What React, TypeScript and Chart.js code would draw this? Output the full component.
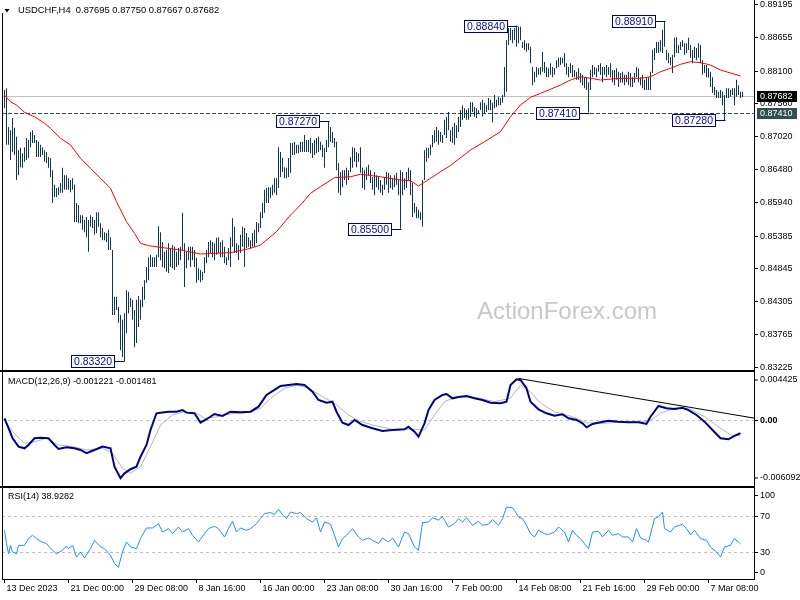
import React, { useEffect, useRef } from 'react';
import { Chart, registerables } from 'chart.js';

Chart.register(...registerables);

const FONT = '"Liberation Sans", Arial, sans-serif';

// ---------------- data ----------------
const symbolTitle = 'USDCHF,H4';
const lastOHLC = [0.87695, 0.8775, 0.87667, 0.87682];
const lastClose = 0.87682;
const supportLevel = 0.8741;

const priceTicks = [0.89195, 0.88655, 0.881, 0.8756, 0.8702, 0.8648, 0.8594, 0.85385, 0.84845, 0.84305, 0.83765, 0.83225];

const dateLabels = ['13 Dec 2023', '21 Dec 00:00', '29 Dec 08:00', '8 Jan 16:00', '16 Jan 00:00', '23 Jan 08:00', '30 Jan 16:00', '7 Feb 00:00', '14 Feb 08:00', '21 Feb 16:00', '29 Feb 00:00', '7 Mar 08:00'];
const dateLabelBars = [0, 32, 64, 96, 128, 160, 192, 224, 256, 288, 320, 352];

const highs = [
  0.8778, 0.8781, 0.8717, 0.8712, 0.8732, 0.8716, 0.8701, 0.8679, 0.8683, 0.8674,
  0.8684, 0.8699, 0.8696, 0.8709, 0.8712, 0.8704, 0.8696, 0.8693, 0.8688, 0.8684,
  0.8679, 0.8676, 0.8668, 0.8666, 0.8646, 0.8622, 0.8617, 0.8618, 0.8625, 0.865,
  0.8638, 0.8638, 0.8633, 0.863, 0.8633, 0.8622, 0.8592, 0.8589, 0.8572, 0.8572,
  0.8564, 0.8569, 0.8564, 0.8572, 0.8569, 0.8564, 0.8577, 0.8577, 0.8559, 0.8551,
  0.8544, 0.8543, 0.8548, 0.8536, 0.8515, 0.8438, 0.8438, 0.8421, 0.8408, 0.84,
  0.8411, 0.8449, 0.8446, 0.8436, 0.8433, 0.8416, 0.8433, 0.8439, 0.8433, 0.8454,
  0.8465, 0.8487, 0.8503, 0.8507,
  0.8503, 0.8503, 0.8507, 0.8554, 0.8544, 0.8528, 0.8512, 0.8515, 0.8526, 0.8518,
  0.8523, 0.852, 0.8512, 0.8518, 0.852, 0.8576, 0.8526, 0.8512, 0.852, 0.852,
  0.852, 0.8515, 0.8502, 0.8485, 0.8482, 0.8479, 0.8503, 0.8515, 0.8528, 0.8531,
  0.8528, 0.8526, 0.8535, 0.8536, 0.8528, 0.8531, 0.852, 0.8503, 0.8518, 0.8536,
  0.8567, 0.8553, 0.8526, 0.8523, 0.854, 0.8553, 0.8551, 0.8543, 0.8536, 0.8531,
  0.8543, 0.8548, 0.8561, 0.8559, 0.8577, 0.8592, 0.8614, 0.8617, 0.8618, 0.8618,
  0.8622, 0.8633, 0.8633, 0.8684, 0.8676, 0.8666, 0.8651, 0.865, 0.8666, 0.8691,
  0.8691, 0.8693, 0.8688, 0.8688, 0.8693,
  0.8693, 0.8704, 0.8696, 0.8696, 0.8699, 0.8691, 0.8696, 0.8699, 0.8701, 0.8693,
  0.8688, 0.8683, 0.8696, 0.8727, 0.8717, 0.8709, 0.8699, 0.8693, 0.8658, 0.8643,
  0.8646, 0.8646, 0.865, 0.8646, 0.8668, 0.8684, 0.8683, 0.8676, 0.8674, 0.8684,
  0.865, 0.8646, 0.8651, 0.8655, 0.8646, 0.8635, 0.8643, 0.8638, 0.8635, 0.863,
  0.8622, 0.8635, 0.8643, 0.8642, 0.8638, 0.8633, 0.8638, 0.8642, 0.863, 0.8646,
  0.8643, 0.8633, 0.8643, 0.865, 0.8646, 0.8625, 0.8592, 0.8586, 0.8581, 0.8577,
  0.863, 0.8679, 0.8683, 0.8683, 0.8688, 0.8704, 0.8712, 0.8717, 0.8712, 0.8709,
  0.8704, 0.8729, 0.8734, 0.8742, 0.8712,
  0.8717, 0.8724, 0.872, 0.8734, 0.8745, 0.8753, 0.8748, 0.8745, 0.8748, 0.8758,
  0.8758, 0.875, 0.8748, 0.8745, 0.8758, 0.8762, 0.8757, 0.8753, 0.8765, 0.8762,
  0.8757, 0.877, 0.8762, 0.8767, 0.8765, 0.877, 0.8816, 0.886, 0.888, 0.888,
  0.8877, 0.888, 0.8884, 0.8882, 0.8882, 0.8857, 0.886, 0.8855, 0.8855, 0.8849,
  0.8816, 0.8808, 0.8816, 0.8814, 0.8816, 0.8841, 0.8824, 0.8816, 0.8814, 0.8822,
  0.8816, 0.8814, 0.8827, 0.8831, 0.8832, 0.8831, 0.8839, 0.8822, 0.8816, 0.8822,
  0.8819, 0.8811, 0.8808, 0.8814, 0.8806, 0.8803, 0.8799, 0.8798, 0.8791, 0.8811,
  0.8819, 0.8816, 0.8814, 0.8819, 0.8822,
  0.8816, 0.8816, 0.8819, 0.8816, 0.8822, 0.8811, 0.8811, 0.8814, 0.8808, 0.8806,
  0.8808, 0.8803, 0.8803, 0.8808, 0.8806, 0.8799, 0.8806, 0.8816, 0.8814, 0.8799,
  0.8803, 0.8795, 0.8798, 0.8799, 0.8808, 0.8844, 0.8847, 0.8857, 0.8857, 0.886,
  0.8877, 0.8891, 0.8844, 0.8839, 0.8832, 0.8836, 0.8864, 0.8865, 0.8852, 0.8857,
  0.886, 0.8855, 0.8855, 0.8864, 0.8852, 0.8844, 0.8849, 0.8847, 0.8855, 0.8852,
  0.8827, 0.8819, 0.8819, 0.8814, 0.8808, 0.8799, 0.8783, 0.8778, 0.8775, 0.8778,
  0.8775, 0.877, 0.8781, 0.8781, 0.8778, 0.8781, 0.8781, 0.8795, 0.8786, 0.8775,
  0.8775,
];

const lows = [
  0.8748, 0.8688, 0.8688, 0.8663, 0.8676, 0.8671, 0.863, 0.8638, 0.8651, 0.865,
  0.866, 0.8663, 0.8666, 0.8684, 0.8691, 0.8691, 0.8668, 0.8668, 0.8668, 0.8671,
  0.866, 0.8658, 0.865, 0.8635, 0.8592, 0.8602, 0.8602, 0.8605, 0.8609, 0.8609,
  0.8614, 0.8614, 0.8614, 0.861, 0.8614, 0.8561, 0.8561, 0.8559, 0.8559, 0.8548,
  0.8544, 0.8536, 0.8512, 0.8553, 0.8551, 0.854, 0.8543, 0.8553, 0.8536, 0.8531,
  0.8531, 0.8528, 0.8515, 0.8515, 0.8408, 0.8408, 0.8416, 0.8395, 0.835, 0.8339,
  0.8332, 0.8378, 0.8411, 0.8421, 0.84, 0.8355, 0.8362, 0.8388, 0.84, 0.8421,
  0.8433, 0.8461, 0.8465, 0.8487,
  0.8487, 0.8487, 0.8487, 0.8503, 0.8498, 0.8487, 0.8485, 0.8479, 0.8477, 0.8487,
  0.8485, 0.8482, 0.8487, 0.849, 0.8498, 0.8515, 0.8454, 0.8485, 0.8498, 0.8487,
  0.8498, 0.8487, 0.8461, 0.8465, 0.8462, 0.8465, 0.8477, 0.8493, 0.8503, 0.851,
  0.8503, 0.8498, 0.8507, 0.851, 0.8503, 0.8503, 0.8493, 0.849, 0.8498, 0.8487,
  0.852, 0.851, 0.851, 0.8498, 0.851, 0.852, 0.8487, 0.8518, 0.852, 0.8518,
  0.852, 0.852, 0.8526, 0.8544, 0.8551, 0.8567, 0.8576, 0.8592, 0.8592, 0.86,
  0.8605, 0.8609, 0.8605, 0.8617, 0.8635, 0.8643, 0.8633, 0.8633, 0.8635, 0.8642,
  0.8671, 0.8671, 0.8674, 0.8674, 0.8676,
  0.8676, 0.8676, 0.8676, 0.8676, 0.8674, 0.8666, 0.8671, 0.8674, 0.8676, 0.8679,
  0.8668, 0.865, 0.8676, 0.8684, 0.8693, 0.8691, 0.8684, 0.8646, 0.8609, 0.8605,
  0.8618, 0.863, 0.8622, 0.863, 0.8643, 0.865, 0.866, 0.8651, 0.866, 0.8642,
  0.8617, 0.8614, 0.863, 0.8638, 0.8625, 0.8614, 0.8605, 0.8618, 0.8614, 0.8609,
  0.8605, 0.8614, 0.8622, 0.8609, 0.8617, 0.8614, 0.8618, 0.8622, 0.8605, 0.855,
  0.8605, 0.8614, 0.8617, 0.863, 0.8605, 0.8569, 0.8576, 0.8567, 0.8567, 0.8564,
  0.8553, 0.863, 0.866, 0.8666, 0.8671, 0.8684, 0.8691, 0.8693, 0.8688, 0.8693,
  0.8691, 0.8704, 0.8699, 0.8712, 0.8693,
  0.8691, 0.8688, 0.8699, 0.8709, 0.8717, 0.8729, 0.8732, 0.8729, 0.8729, 0.8734,
  0.8742, 0.8734, 0.8732, 0.874, 0.8745, 0.8734, 0.874, 0.8742, 0.8745, 0.8745,
  0.8725, 0.8748, 0.875, 0.8753, 0.8753, 0.8757, 0.8767, 0.8775, 0.8852, 0.886,
  0.8855, 0.886, 0.8849, 0.8855, 0.886, 0.8847, 0.8844, 0.8841, 0.8844, 0.8822,
  0.8786, 0.8791, 0.8799, 0.8803, 0.8803, 0.8808, 0.8806, 0.8799, 0.8799, 0.8803,
  0.8799, 0.8803, 0.8814, 0.8816, 0.8819, 0.8822, 0.8816, 0.8803, 0.8799, 0.8806,
  0.8799, 0.8799, 0.8795, 0.8795, 0.879, 0.8786, 0.8781, 0.8778, 0.8741, 0.8778,
  0.8799, 0.8803, 0.8799, 0.8808, 0.8803,
  0.8791, 0.8803, 0.8799, 0.8803, 0.8799, 0.8791, 0.8786, 0.8795, 0.8783, 0.879,
  0.879, 0.8786, 0.8791, 0.8786, 0.8783, 0.8783, 0.879, 0.8799, 0.8791, 0.8786,
  0.8781, 0.8778, 0.8778, 0.8778, 0.8778, 0.8806, 0.8827, 0.8839, 0.8839, 0.8841,
  0.8839, 0.8849, 0.8827, 0.8822, 0.8819, 0.8806, 0.8832, 0.8839, 0.8839, 0.8844,
  0.8849, 0.8836, 0.8839, 0.8844, 0.8831, 0.8822, 0.8831, 0.8827, 0.8831, 0.8822,
  0.8803, 0.8806, 0.8799, 0.8798, 0.8783, 0.8773, 0.877, 0.8765, 0.8765, 0.8765,
  0.8753, 0.8728, 0.8765, 0.8765, 0.8767, 0.877, 0.8753, 0.8767, 0.877, 0.8765,
  0.87667,
];

const maBars = [0, 3, 6, 10, 15, 20, 23, 28, 33, 38, 43, 48, 53, 56, 61, 65, 68, 72, 88, 98, 113, 123, 128, 136, 143, 148, 153, 158, 165, 173, 178, 188, 198, 203, 207, 213, 218, 223, 233, 240, 248, 253, 258, 263, 268, 273, 278, 283, 288, 293, 298, 308, 318, 323, 328, 333, 338, 343, 348, 353, 358, 363, 368];
const maValues = [0.87698, 0.87588, 0.87534, 0.87414, 0.87341, 0.87233, 0.8715, 0.86986, 0.86876, 0.86657, 0.86492, 0.86328, 0.86163, 0.85943, 0.85614, 0.85423, 0.85259, 0.85219, 0.85148, 0.85083, 0.85104, 0.85176, 0.85231, 0.8545, 0.85724, 0.85889, 0.86081, 0.8619, 0.86338, 0.86354, 0.86394, 0.86354, 0.863, 0.86288, 0.86201, 0.86328, 0.86437, 0.86539, 0.86793, 0.8693, 0.87095, 0.87341, 0.87534, 0.8766, 0.87726, 0.87792, 0.87863, 0.87945, 0.87999, 0.87973, 0.87945, 0.87973, 0.87973, 0.87999, 0.88081, 0.88137, 0.88203, 0.88246, 0.8823, 0.88192, 0.88109, 0.88061, 0.88011];

const annBars = [60, 162, 198, 256, 292, 330, 360];
const annPrices = [0.8332, 0.8727, 0.855, 0.8884, 0.8741, 0.8891, 0.8728];

const macdBars = [0, 2, 4, 7, 10, 12, 15, 18, 22, 25, 27, 31, 35, 38, 41, 45, 49, 53, 55, 58, 60, 63, 66, 68, 71, 73, 76, 78, 82, 86, 89, 91, 95, 98, 101, 105, 109, 113, 118, 123, 127, 131, 135, 138, 142, 146, 150, 154, 157, 161, 164, 166, 169, 172, 175, 179, 184, 189, 194, 200, 202, 205, 207, 210, 212, 215, 219, 221, 224, 228, 231, 235, 239, 243, 248, 251, 253, 256, 258, 261, 263, 267, 271, 275, 279, 282, 286, 289, 291, 294, 298, 302, 307, 312, 317, 321, 323, 327, 331, 335, 339, 342, 346, 350, 354, 358, 362, 365, 368];
const macdValues = [0.00019, -0.00076, -0.00169, -0.00252, -0.00268, -0.00236, -0.00172, -0.00166, -0.00172, -0.00236, -0.00274, -0.00258, -0.00268, -0.00284, -0.00315, -0.00284, -0.00252, -0.00268, -0.00444, -0.00554, -0.00507, -0.00468, -0.00444, -0.00348, -0.00236, -0.00093, 0.00067, 0.00073, 0.00082, 0.00082, 0.00098, 0.00073, 0.00067, -0.00023, 0.0001, 0.0006, 0.00041, 0.00082, 0.00076, 0.00082, 0.0013, 0.00242, 0.0029, 0.00328, 0.00337, 0.00347, 0.00337, 0.00273, 0.00194, 0.00168, 0.00178, 0.00082, -0.00023, -0.00045, 0.00003, -0.00045, -0.00076, -0.00102, -0.00093, -0.00086, -0.00061, -0.00109, -0.00157, -0.00029, 0.00098, 0.00194, 0.00242, 0.00251, 0.0021, 0.00226, 0.00232, 0.0021, 0.00194, 0.00168, 0.00163, 0.00178, 0.00337, 0.00392, 0.00385, 0.00306, 0.00178, 0.00105, 0.00067, 0.00044, 0.00057, 0.00019, 0.00003, -0.00029, -0.00067, -0.00035, -0.00019, -0.00004, -0.00013, -0.00019, -0.00019, -0.00035, 0.00034, 0.00137, 0.00115, 0.00108, 0.0012, 0.00098, 0.00051, -0.00013, -0.00093, -0.00172, -0.00182, -0.0015, -0.001221];

const signalBars = [0, 4, 10, 15, 21, 27, 34, 41, 49, 54, 59, 63, 68, 73, 78, 84, 90, 96, 100, 105, 113, 123, 128, 133, 140, 146, 152, 159, 165, 172, 177, 184, 194, 205, 210, 215, 220, 226, 235, 245, 253, 258, 263, 268, 275, 284, 291, 299, 312, 322, 328, 335, 342, 350, 358, 363, 368];
const signalValues = [0.00003, -0.00109, -0.0022, -0.00205, -0.00172, -0.00236, -0.00252, -0.00284, -0.00268, -0.00315, -0.00459, -0.00507, -0.00444, -0.00252, -0.00045, 0.00051, 0.00082, 0.00067, 0.00019, 0.00029, 0.0006, 0.00076, 0.00115, 0.0021, 0.00306, 0.00337, 0.00306, 0.00226, 0.00163, 0.00051, -0.00004, -0.00045, -0.00086, -0.00086, -0.00093, 0.00051, 0.00178, 0.00226, 0.0022, 0.00178, 0.0021, 0.00337, 0.00273, 0.00163, 0.00082, 0.00034, -0.00023, -0.00029, -0.00013, -0.00013, 0.00067, 0.00115, 0.00115, 0.00034, -0.00076, -0.0014, -0.001481];

const macdTrendBars = [257, 376];
const macdTrendValues = [0.004, 0.00017];
const macdScaleMax = 0.004425;
const macdScaleMin = -0.006092;

const rsiBars = [0, 1, 2, 3, 4, 6, 7, 10, 12, 14, 16, 18, 21, 24, 26, 29, 31, 32, 34, 36, 38, 40, 43, 45, 48, 50, 53, 55, 57, 59, 61, 63, 66, 68, 71, 74, 77, 79, 82, 84, 87, 89, 92, 94, 97, 100, 102, 105, 107, 110, 112, 114, 116, 118, 121, 123, 126, 128, 130, 133, 135, 137, 140, 141, 143, 146, 148, 151, 154, 156, 158, 160, 163, 165, 167, 169, 171, 174, 177, 179, 182, 184, 187, 189, 192, 194, 197, 200, 202, 205, 207, 209, 212, 214, 217, 219, 222, 225, 227, 229, 231, 234, 237, 239, 242, 244, 247, 249, 251, 254, 255, 257, 259, 261, 263, 265, 267, 270, 272, 275, 277, 280, 282, 284, 286, 288, 290, 292, 294, 297, 299, 302, 304, 307, 309, 312, 314, 316, 318, 321, 322, 325, 327, 329, 330, 333, 335, 339, 341, 343, 345, 348, 351, 353, 356, 358, 360, 363, 365, 367, 368];
const rsiValues = [54.1, 39.3, 28.2, 37.4, 30, 28, 37.4, 37.4, 44.9, 48.6, 44.9, 41.9, 39.3, 31.9, 28, 31.9, 36.7, 33.8, 37.4, 24.4, 30, 23.3, 33.8, 43, 35.6, 33.8, 26.3, 17.1, 13.3, 30, 41.1, 35.6, 33.8, 44.9, 56.7, 56.7, 61.5, 52.2, 56, 50.4, 57.8, 52.2, 56, 48.6, 41.1, 50.4, 56, 58.6, 56, 46.7, 56, 64.1, 52.2, 56.7, 54.1, 56, 61.5, 67.1, 72.7, 73.8, 71.6, 77.4, 68.9, 67.1, 74.4, 72.7, 73.8, 67.1, 63.3, 68.1, 52.2, 63.3, 60.8, 48.6, 35.6, 44.9, 48.6, 56, 46.7, 43, 45.6, 43, 39.3, 45.6, 41.1, 45.6, 35.6, 52.2, 50.4, 35.6, 31.9, 62.6, 63.3, 68.1, 65.5, 69.3, 57.8, 61.5, 67.1, 63.3, 68.1, 59.7, 64.1, 59.7, 60.8, 66, 59.7, 67.1, 80, 79, 76.3, 68.9, 67.1, 59.7, 50.4, 46.7, 54.1, 50.4, 49.4, 52.2, 57.8, 52.2, 41.1, 54.1, 48.6, 44.9, 39.3, 33.8, 52.2, 52.9, 46.7, 54.1, 48.6, 50.4, 46.7, 46.7, 41.1, 56, 45.6, 43, 41.1, 67.1, 69.3, 74.4, 56, 52.2, 57.8, 60.8, 56, 49.4, 54.1, 44.9, 43, 35.6, 30, 24.4, 35.6, 37.4, 44.9, 41.1, 38.9282];
const rsiLevels = [70, 30];
const rsiAxisLabels = [100, 70, 30, 0];

// ---------------- layout constants ----------------
const XMIN = -1.25;
const XMAX = 374.75;
const PRICE_MAX = 0.89261;
const PRICE_MIN = 0.83191;
const BAR_COLOR = '#0f3652';
const AXIS_X = 754.5;

function hline(ctx: CanvasRenderingContext2D, x1: number, x2: number, y: number) {
  ctx.beginPath();
  ctx.moveTo(x1, y);
  ctx.lineTo(x2, y);
  ctx.stroke();
}
function vline(ctx: CanvasRenderingContext2D, x: number, y1: number, y2: number) {
  ctx.beginPath();
  ctx.moveTo(x, y1);
  ctx.lineTo(x, y2);
  ctx.stroke();
}

function baseOptions(yMin: number, yMax: number, padding: any): any {
  return {
    animation: false,
    responsive: false,
    maintainAspectRatio: false,
    devicePixelRatio: 1,
    events: [],
    layout: { padding },
    plugins: { legend: { display: false }, tooltip: { enabled: false } },
    scales: {
      x: { type: 'linear', min: XMIN, max: XMAX, display: false, offset: false },
      y: { type: 'linear', min: yMin, max: yMax, display: false, beginAtZero: false },
    },
  };
}

const mainPlugin = {
  id: 'mainDecor',
  beforeDatasetsDraw(chart: any) {
    const { ctx, chartArea: a, scales } = chart;
    const y = scales.y;
    ctx.save();
    ctx.fillStyle = '#c8c8c8';
    ctx.font = `24px ${FONT}`;
    ctx.textAlign = 'center';
    ctx.textBaseline = 'middle';
    ctx.fillText('ActionForex.com', 567, 312);
    ctx.lineWidth = 1;
    ctx.strokeStyle = '#c0c0c0';
    hline(ctx, a.left, a.right, Math.round(y.getPixelForValue(lastClose)) + 0.5);
    ctx.strokeStyle = '#2f4f4f';
    ctx.setLineDash([4, 2]);
    hline(ctx, a.left, a.right, Math.round(y.getPixelForValue(supportLevel)) + 0.5);
    ctx.restore();
  },
  afterDraw(chart: any) {
    const { ctx, scales } = chart;
    const x = scales.x;
    const y = scales.y;
    ctx.save();
    ctx.strokeStyle = '#000';
    ctx.lineWidth = 1;
    vline(ctx, 2.5, 13, 370);
    vline(ctx, AXIS_X, 0, 370);

    // annotations
    ctx.font = `10.5px ${FONT}`;
    ctx.textAlign = 'center';
    ctx.textBaseline = 'middle';
    annBars.forEach((b, k) => {
      const p = annPrices[k];
      const px = Math.round(x.getPixelForValue(b));
      const py = Math.round(y.getPixelForValue(p)) + 0.5;
      const txt = p.toFixed(5);
      const w = Math.round(ctx.measureText(txt).width) + 5;
      const right = px - 10;
      const left = right - w;
      ctx.fillStyle = '#fff';
      ctx.fillRect(left, py - 6, w, 12);
      ctx.strokeStyle = '#000080';
      ctx.strokeRect(left + 0.5, py - 6, w, 12);
      hline(ctx, right + 0.5, px + 0.5, py);
      ctx.fillStyle = '#0a0a96';
      ctx.fillText(txt, left + w / 2 + 0.5, py + 0.5);
    });

    // right price axis
    ctx.font = `9px ${FONT}`;
    ctx.textAlign = 'left';
    ctx.textBaseline = 'middle';
    ctx.strokeStyle = '#000';
    ctx.fillStyle = '#000';
    priceTicks.forEach((t) => {
      const ty = Math.round(y.getPixelForValue(t)) + 0.5;
      hline(ctx, 755, 758, ty);
      ctx.fillText(t.toFixed(5), 760, ty);
    });
    const boxes: [number, string][] = [[lastClose, '#000000'], [supportLevel, '#2f4f4f']];
    boxes.forEach(([v, col]) => {
      const ty = Math.round(y.getPixelForValue(v));
      ctx.fillStyle = col;
      ctx.fillRect(757, ty - 5, 40, 11);
      ctx.fillStyle = '#fff';
      ctx.fillText(v.toFixed(5), 760, ty + 0.5);
    });

    // title
    ctx.fillStyle = '#000';
    ctx.beginPath();
    ctx.moveTo(4.5, 9);
    ctx.lineTo(9.5, 9);
    ctx.lineTo(7, 12.5);
    ctx.closePath();
    ctx.fill();
    ctx.font = `9.4px ${FONT}`;
    ctx.fillText(`${symbolTitle}  ${lastOHLC.map((v) => v.toFixed(5)).join(' ')}`, 18, 10.5);
    ctx.restore();
  },
};

const macdPlugin = {
  id: 'macdDecor',
  beforeDatasetsDraw(chart: any) {
    const { ctx, chartArea: a, scales } = chart;
    ctx.save();
    ctx.strokeStyle = '#c0c0c0';
    ctx.lineWidth = 1;
    ctx.setLineDash([3, 3]);
    hline(ctx, a.left, a.right, Math.round(scales.y.getPixelForValue(0)) + 0.5);
    ctx.restore();
  },
  afterDraw(chart: any) {
    const { ctx, chartArea: a, scales } = chart;
    const y = scales.y;
    ctx.save();
    ctx.fillStyle = '#000';
    ctx.fillRect(0, 0, 755, 2);
    ctx.strokeStyle = '#000';
    ctx.lineWidth = 1;
    vline(ctx, 2.5, 2, 116);
    vline(ctx, AXIS_X, 0, 116);
    ctx.font = `9px ${FONT}`;
    ctx.textAlign = 'left';
    ctx.textBaseline = 'middle';
    const items: [number, string, boolean][] = [
      [a.top + 6, macdScaleMax.toFixed(6), false],
      [Math.round(y.getPixelForValue(0)) + 0.5, '0.00', true],
      [a.bottom - 6, macdScaleMin.toFixed(6), false],
    ];
    items.forEach(([ty, txt, bold]) => {
      hline(ctx, 755, 758, ty);
      ctx.font = `${bold ? 'bold ' : ''}9px ${FONT}`;
      ctx.fillText(txt, 760, ty);
    });
    ctx.font = `9px ${FONT}`;
    ctx.fillText(`MACD(12,26,9) ${macdValues[macdValues.length - 1].toFixed(6)} ${signalValues[signalValues.length - 1].toFixed(6)}`, 8, 11.5);
    ctx.restore();
  },
};

const rsiPlugin = {
  id: 'rsiDecor',
  beforeDatasetsDraw(chart: any) {
    const { ctx, chartArea: a, scales } = chart;
    ctx.save();
    ctx.strokeStyle = '#c0c0c0';
    ctx.lineWidth = 1;
    ctx.setLineDash([3, 3]);
    rsiLevels.forEach((lv) => hline(ctx, a.left, a.right, Math.round(scales.y.getPixelForValue(lv)) + 0.5));
    ctx.restore();
  },
  afterDraw(chart: any) {
    const { ctx, chartArea: a, scales } = chart;
    const x = scales.x;
    const y = scales.y;
    ctx.save();
    ctx.fillStyle = '#000';
    ctx.fillRect(0, 0, 755, 2);
    ctx.strokeStyle = '#000';
    ctx.lineWidth = 1;
    vline(ctx, 2.5, 2, a.bottom);
    vline(ctx, AXIS_X, 0, a.bottom + 1);
    hline(ctx, 2, 755, a.bottom + 0.5);
    ctx.font = `9px ${FONT}`;
    ctx.textAlign = 'left';
    ctx.textBaseline = 'middle';
    rsiAxisLabels.forEach((v) => {
      let ty = Math.round(y.getPixelForValue(v)) + 0.5;
      if (v === 100) ty = a.top + 6.5;
      if (v === 0) ty = a.bottom - 6.5;
      hline(ctx, 755, 758, ty);
      ctx.fillText(String(v), 760, ty);
    });
    dateLabelBars.forEach((b, k) => {
      const tx = Math.round(x.getPixelForValue(b)) - 0.5;
      vline(ctx, tx, a.bottom, a.bottom + 4);
      ctx.fillText(dateLabels[k], tx + 2, a.bottom + 10);
    });
    ctx.fillText(`RSI(14) ${rsiValues[rsiValues.length - 1].toFixed(4)}`, 8, 11);
    ctx.restore();
  },
};

export default function App() {
  const mainRef = useRef<HTMLCanvasElement>(null);
  const macdRef = useRef<HTMLCanvasElement>(null);
  const rsiRef = useRef<HTMLCanvasElement>(null);

  useEffect(() => {
    const charts: Chart[] = [];
    if (mainRef.current) {
      charts.push(
        new Chart(mainRef.current, {
          type: 'bar',
          data: {
            datasets: [
              {
                type: 'line',
                data: maBars.map((b, i) => ({ x: b, y: maValues[i] })),
                borderColor: '#ff0000',
                borderWidth: 1,
                pointRadius: 0,
                tension: 0,
                order: 0,
              } as any,
              {
                type: 'bar',
                data: highs.map((h, i) => ({ x: i, y: [lows[i], h] })),
                backgroundColor: BAR_COLOR,
                borderWidth: 0,
                barThickness: 1,
                inflateAmount: 0,
                order: 1,
              } as any,
            ],
          },
          options: baseOptions(PRICE_MIN, PRICE_MAX, { left: 2, right: 46, top: 0, bottom: 1 }),
          plugins: [mainPlugin],
        } as any)
      );
    }
    if (macdRef.current) {
      charts.push(
        new Chart(macdRef.current, {
          type: 'line',
          data: {
            datasets: [
              {
                data: macdTrendBars.map((b, i) => ({ x: b, y: macdTrendValues[i] })),
                borderColor: '#000000',
                borderWidth: 1,
                pointRadius: 0,
                order: 0,
              },
              {
                data: macdBars.map((b, i) => ({ x: b, y: macdValues[i] })),
                borderColor: '#00008b',
                borderWidth: 2,
                pointRadius: 0,
                tension: 0,
                order: 1,
              },
              {
                data: signalBars.map((b, i) => ({ x: b, y: signalValues[i] })),
                borderColor: '#b4b4b4',
                borderWidth: 1,
                pointRadius: 0,
                tension: 0,
                order: 2,
              },
            ],
          },
          options: baseOptions(macdScaleMin, macdScaleMax, { left: 2, right: 46, top: 4, bottom: 2 }),
          plugins: [macdPlugin],
        } as any)
      );
    }
    if (rsiRef.current) {
      charts.push(
        new Chart(rsiRef.current, {
          type: 'line',
          data: {
            datasets: [
              {
                data: rsiBars.map((b, i) => ({ x: b, y: rsiValues[i] })),
                borderColor: '#1e90ff',
                borderWidth: 1,
                pointRadius: 0,
                tension: 0,
              },
            ],
          },
          options: baseOptions(0, 100, { left: 2, right: 46, top: 3, bottom: 21 }),
          plugins: [rsiPlugin],
        } as any)
      );
    }
    return () => charts.forEach((c) => c.destroy());
  }, []);

  const cv = (top: number, h: number): React.CSSProperties => ({ position: 'absolute', left: 0, top, width: 800, height: h, display: 'block' });

  return (
    <div style={{ position: 'absolute', left: 0, top: 0, width: 800, height: 600, background: '#fff', overflow: 'hidden' }}>
      <canvas ref={mainRef} width={800} height={370} style={cv(0, 370)} />
      <canvas ref={macdRef} width={800} height={116} style={cv(370, 116)} />
      <canvas ref={rsiRef} width={800} height={114} style={cv(486, 114)} />
    </div>
  );
}
